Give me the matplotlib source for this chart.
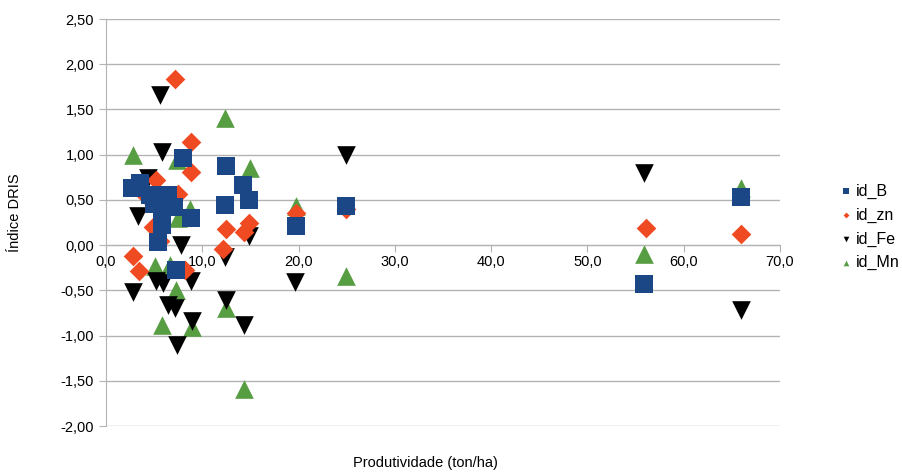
import matplotlib
matplotlib.use("Agg")
import matplotlib.pyplot as plt
from matplotlib.ticker import FuncFormatter

plt.rcParams['font.family'] = ['Liberation Sans', 'DejaVu Sans']

b_x = [2.7, 3.5, 4.6, 5.0, 5.8, 6.4, 7.1, 5.8, 8.8, 5.4, 7.3, 8.0, 12.5, 14.2, 14.8, 12.4, 19.7, 24.9, 55.9, 65.9]
b_y = [0.63, 0.69, 0.55, 0.45, 0.35, 0.55, 0.42, 0.22, 0.30, 0.03, -0.27, 0.96, 0.87, 0.67, 0.50, 0.44, 0.21, 0.43, -0.43, 0.53]

zn_x = [2.8, 3.4, 4.9, 5.2, 5.6, 7.2, 7.5, 8.2, 8.8, 8.8, 12.2, 12.5, 14.3, 14.8, 19.7, 24.9, 56.1, 66.0, 6.2, 4.0]
zn_y = [-0.12, -0.29, 0.20, 0.72, 0.05, 1.84, 0.57, -0.27, 1.14, 0.81, -0.04, 0.18, 0.14, 0.24, 0.35, 0.40, 0.19, 0.12, 0.47, 0.55]

fe_x = [2.8, 3.3, 4.4, 5.2, 5.6, 5.8, 5.9, 6.4, 7.2, 7.4, 7.8, 8.8, 8.9, 12.4, 12.5, 14.3, 14.8, 19.6, 24.9, 55.9, 66.0]
fe_y = [-0.52, 0.32, 0.74, -0.40, 1.66, 1.03, -0.42, -0.66, -0.70, -1.10, 0.00, -0.40, -0.84, -0.13, -0.61, -0.88, 0.10, -0.41, 1.00, 0.80, -0.72]

mn_x = [2.8, 5.1, 5.8, 6.6, 7.3, 7.4, 7.5, 8.7, 8.9, 12.4, 12.5, 14.3, 15.0, 19.7, 24.9, 55.9, 65.9]
mn_y = [1.00, -0.23, -0.88, -0.22, -0.50, 0.94, 0.30, 0.40, -0.90, 1.40, -0.69, -1.59, 0.85, 0.43, -0.34, -0.10, 0.63]

c_b = '#1b4786'
c_zn = '#f04a22'
c_fe = '#000000'
c_mn = '#579d42'

fig = plt.figure(figsize=(9.03, 4.74), dpi=100)
ax = fig.add_axes([106/903, 1-426/474, (780-106)/903, (426-19)/474])

h_mn = ax.scatter(mn_x, mn_y, marker='^', s=180, color=c_mn, linewidths=0, zorder=3, label='id_Mn')
h_fe = ax.scatter(fe_x, fe_y, marker='v', s=180, color=c_fe, linewidths=0, zorder=4, label='id_Fe')
h_zn = ax.scatter(zn_x, zn_y, marker='D', s=100, color=c_zn, linewidths=0, zorder=5, label='id_zn')
h_b = ax.scatter(b_x, b_y, marker='s', s=165, color=c_b, linewidths=0, zorder=6, label='id_B')

ax.set_xlim(0, 70)
ax.set_ylim(-2.0, 2.5)
ax.set_xticks(range(0, 71, 10))
ax.set_yticks([-2.0 + 0.5*i for i in range(10)])
ax.xaxis.set_major_formatter(FuncFormatter(lambda v, p: f"{v:.1f}".replace('.', ',')))
ax.yaxis.set_major_formatter(FuncFormatter(lambda v, p: f"{v:.2f}".replace('.', ',')))

ax.grid(axis='y', color='#b3b3b3', linewidth=1)
ax.set_axisbelow(True)
for s in ['top', 'right']:
    ax.spines[s].set_visible(False)
ax.spines['left'].set_color('#b3b3b3')
ax.spines['bottom'].set_position(('data', 0))
ax.spines['bottom'].set_color('#b3b3b3')
ax.tick_params(axis='both', colors='#b3b3b3', labelcolor='black', labelsize=10.5, length=5)
ax.tick_params(axis='x', pad=2)

fig.text(425/903, 1-463/474, 'Produtividade (ton/ha)', fontsize=10.5, ha='center', va='center')
fig.text(15/903, 1-213/474, 'Índice DRIS', fontsize=10.5, ha='center', va='center', rotation=90)

leg = fig.legend(handles=[h_b, h_zn, h_fe, h_mn], labels=['id_B', 'id_zn', 'id_Fe', 'id_Mn'],
                 loc='center left', bbox_to_anchor=(832/903, 1-227/474), frameon=False,
                 fontsize=11.5, handletextpad=0.1, markerscale=0.3, labelspacing=0.55,
                 handlelength=1.0, borderaxespad=0)

fig.savefig('out.png', dpi=100)
